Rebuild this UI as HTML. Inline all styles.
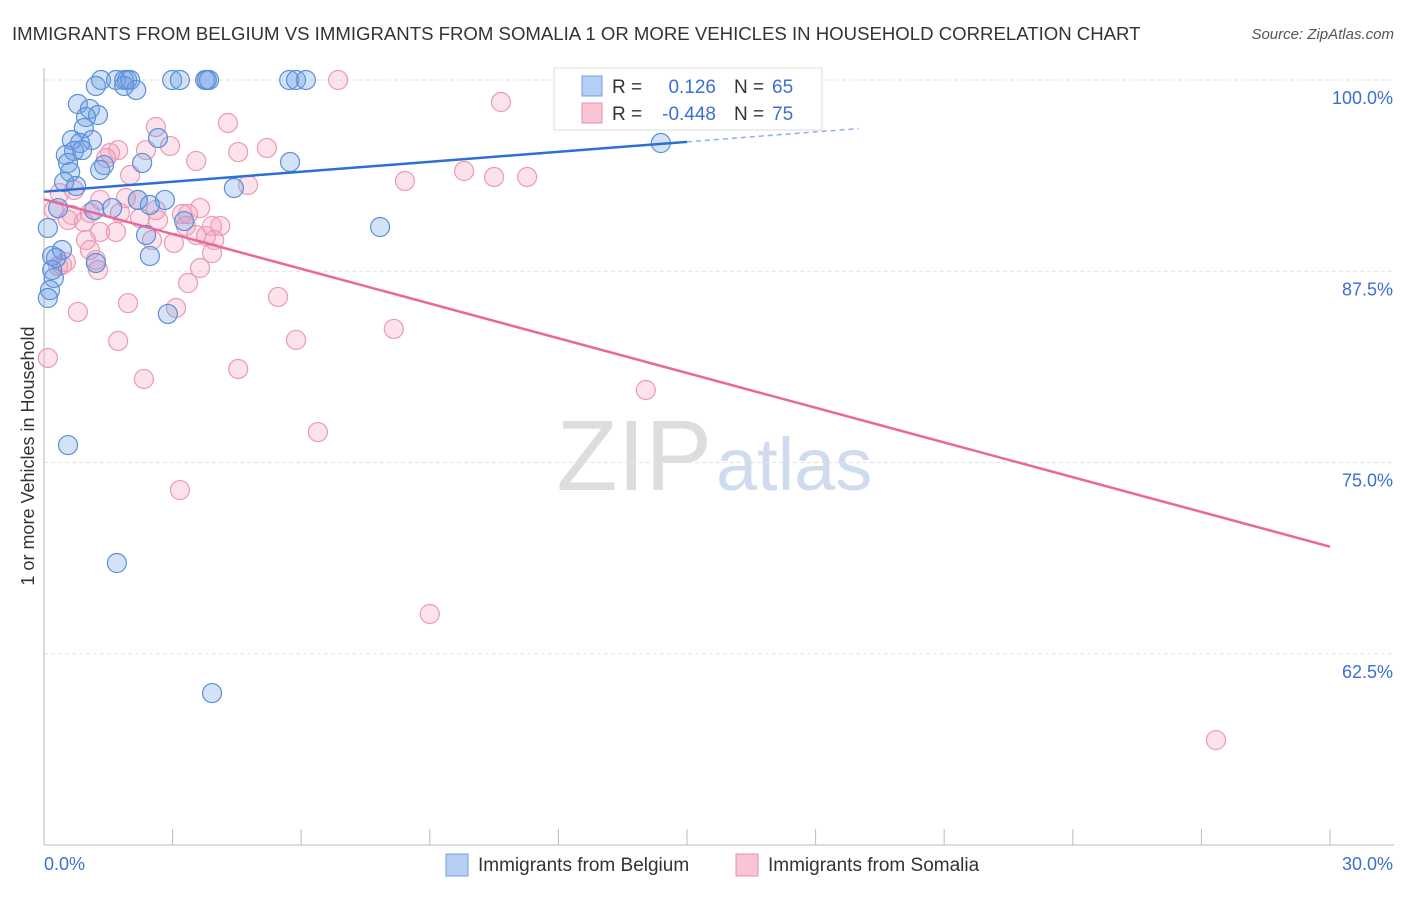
<!DOCTYPE html>
<html><head><meta charset="utf-8"><style>
body{margin:0;background:#fff;font-family:"Liberation Sans",sans-serif;}
svg text{font-family:"Liberation Sans",sans-serif;}
</style></head><body>
<svg id="chart" width="1406" height="892">
<text x="12" y="40" font-size="18.6" fill="#333">IMMIGRANTS FROM BELGIUM VS IMMIGRANTS FROM SOMALIA 1 OR MORE VEHICLES IN HOUSEHOLD CORRELATION CHART</text>
<text x="1394" y="39" font-size="15" fill="#555" text-anchor="end" font-style="italic">Source: ZipAtlas.com</text>
<text x="712" y="490" font-size="100" fill="#ddd" text-anchor="end" font-family="Liberation Serif">ZIP</text>
<text x="716" y="490" font-size="74" fill="#cfdcf0">atlas</text>
<g id="grid"></g>
<g id="pts"></g>
<g id="lines"></g>
<text transform="translate(34,456) rotate(-90)" font-size="18" fill="#333" text-anchor="middle">1 or more Vehicles in Household</text>
<g>
<rect x="554" y="68" width="268" height="62" fill="#fff" stroke="#ddd"/>
<rect x="582" y="76" width="20" height="20" fill="#b7cff3" stroke="#6f9de0"/>
<text x="612" y="93" font-size="19" fill="#333">R =</text>
<text x="716" y="93" font-size="19" fill="#3b6fd4" text-anchor="end">0.126</text>
<text x="734" y="93" font-size="19" fill="#333">N =</text>
<text x="772" y="93" font-size="19" fill="#3b6fd4">65</text>
<rect x="582" y="103" width="20" height="20" fill="#f9c5d4" stroke="#e890aa"/>
<text x="612" y="120" font-size="19" fill="#333">R =</text>
<text x="716" y="120" font-size="19" fill="#3b6fd4" text-anchor="end">-0.448</text>
<text x="734" y="120" font-size="19" fill="#333">N =</text>
<text x="772" y="120" font-size="19" fill="#3b6fd4">75</text>
</g>
<g>
<rect x="446" y="854" width="22" height="22" fill="#b7cff3" stroke="#6f9de0"/>
<text x="478" y="871" font-size="19" fill="#333">Immigrants from Belgium</text>
<rect x="736" y="854" width="22" height="22" fill="#f9c5d4" stroke="#e890aa"/>
<text x="768" y="871" font-size="19" fill="#333">Immigrants from Somalia</text>
</g>
</svg>
<script>
const xTicks=[0,3,6,9,12,15,18,21,24,27,30];
const yTicks=[100,87.5,75,62.5];
const yTickLabels=["100.0%","87.5%","75.0%","62.5%"];
const belgiumPx=[[101,80],[116,80],[124,80],[127,80],[130,80],[172,80],[180,80],[205,80],[207,80],[209,80],[289,80],[296,80],[306,80],[96,86],[124,86],[136,90],[78,104],[90,109],[98,115],[86,117],[84,128],[72,140],[92,140],[80,143],[74,151],[66,155],[82,150],[68,163],[104,165],[142,163],[100,170],[70,172],[64,182],[76,186],[158,138],[290,162],[234,188],[58,208],[112,208],[94,210],[138,200],[165,200],[150,205],[184,221],[48,228],[146,235],[380,227],[62,250],[52,256],[150,256],[96,263],[54,278],[50,290],[48,298],[168,314],[661,143],[68,445],[117,563],[212,693],[52,270],[56,258]];
const somaliaPx=[[338,80],[501,102],[228,123],[156,127],[170,146],[118,150],[146,150],[110,153],[238,152],[267,148],[196,161],[106,158],[464,171],[405,181],[494,177],[527,177],[248,185],[130,175],[60,193],[74,190],[126,198],[100,200],[138,200],[156,210],[200,208],[90,213],[72,215],[54,210],[68,220],[84,222],[120,213],[140,218],[158,220],[182,214],[188,214],[186,226],[212,226],[220,226],[196,235],[206,236],[100,232],[116,232],[86,240],[152,240],[174,243],[214,240],[90,250],[212,253],[96,260],[98,270],[62,265],[200,268],[188,283],[128,303],[176,308],[278,297],[78,312],[394,329],[296,340],[118,341],[48,358],[238,369],[144,379],[646,390],[318,432],[180,490],[430,614],[1216,740],[58,266],[66,262]];
const belgiumX=belgiumPx.map(p=>+((p[0]-44)/1286*30).toFixed(2));
const belgiumY=belgiumPx.map(p=>+(100-(p[1]-80)/765*50).toFixed(2));
const somaliaX=somaliaPx.map(p=>+((p[0]-44)/1286*30).toFixed(2));
const somaliaY=somaliaPx.map(p=>+(100-(p[1]-80)/765*50).toFixed(2));
const trendBelgium=[[0,92.7],[35,100.3]];
const trendSomalia=[[0,92.2],[30,69.5]];
const X=v=>44+v/30*1286, Y=v=>80+(100-v)/50*765;
const NS="http://www.w3.org/2000/svg";
function mk(t,a,parent){const e=document.createElementNS(NS,t);for(const k in a)e.setAttribute(k,a[k]);parent.appendChild(e);return e;}
const grid=document.getElementById('grid');
yTicks.forEach((v,i)=>{
 const l=mk('line',{x1:44,x2:1394,y1:Y(v),y2:Y(v),stroke:'#e2e2e2','stroke-dasharray':'4,3'},grid);
 
 
 const t=mk('text',{x:1393,y:Y(v)+24,'font-size':18,fill:'#3b6fd4','text-anchor':'end'},grid);
 t.textContent=yTickLabels[i];
 
 
});
mk('line',{x1:44,x2:44,y1:68,y2:845,stroke:'#bbb'},grid);
mk('line',{x1:44,x2:1394,y1:845,y2:845,stroke:'#bbb'},grid);
xTicks.forEach(v=>{
 const l=mk('line',{x1:X(v),x2:X(v),y1:829,y2:845,stroke:'#bbb'},grid);
 
 
});
const x0=mk('text',{x:44,y:870,'font-size':18,fill:'#3b6fd4'},grid);x0.textContent="0.0%";


const x1=mk('text',{x:1393,y:870,'font-size':18,fill:'#3b6fd4','text-anchor':'end'},grid);x1.textContent="30.0%";


const pts=document.getElementById('pts');
somaliaX.forEach((x,i)=>{
 const c=mk('circle',{cx:X(x),cy:Y(somaliaY[i]),r:9.5,fill:'rgba(244,160,188,0.3)',stroke:'#eb9ab4','stroke-width':1.2},pts);
 
 
});
belgiumX.forEach((x,i)=>{
 const c=mk('circle',{cx:X(x),cy:Y(belgiumY[i]),r:9.5,fill:'rgba(110,160,230,0.3)',stroke:'#5b8fd9','stroke-width':1.2},pts);
 
 
});
const lines=document.getElementById('lines');
const b=trendBelgium, cut=15;
const yb=x=>b[0][1]+(b[1][1]-b[0][1])*(x-b[0][0])/(b[1][0]-b[0][0]);
let l1=mk('line',{x1:X(0),y1:Y(yb(0)),x2:X(cut),y2:Y(yb(cut)),stroke:'#2d6fd6','stroke-width':2.5},lines);


let l2=mk('line',{x1:X(cut),y1:Y(yb(cut)),x2:X(19),y2:Y(yb(19)),stroke:'#8fb0e6','stroke-width':1.5,'stroke-dasharray':'5,4'},lines);


const s=trendSomalia;
let l3=mk('line',{x1:X(s[0][0]),y1:Y(s[0][1]),x2:X(s[1][0]),y2:Y(s[1][1]),stroke:'#e8689a','stroke-width':2.5},lines);


</script>
</body></html>
